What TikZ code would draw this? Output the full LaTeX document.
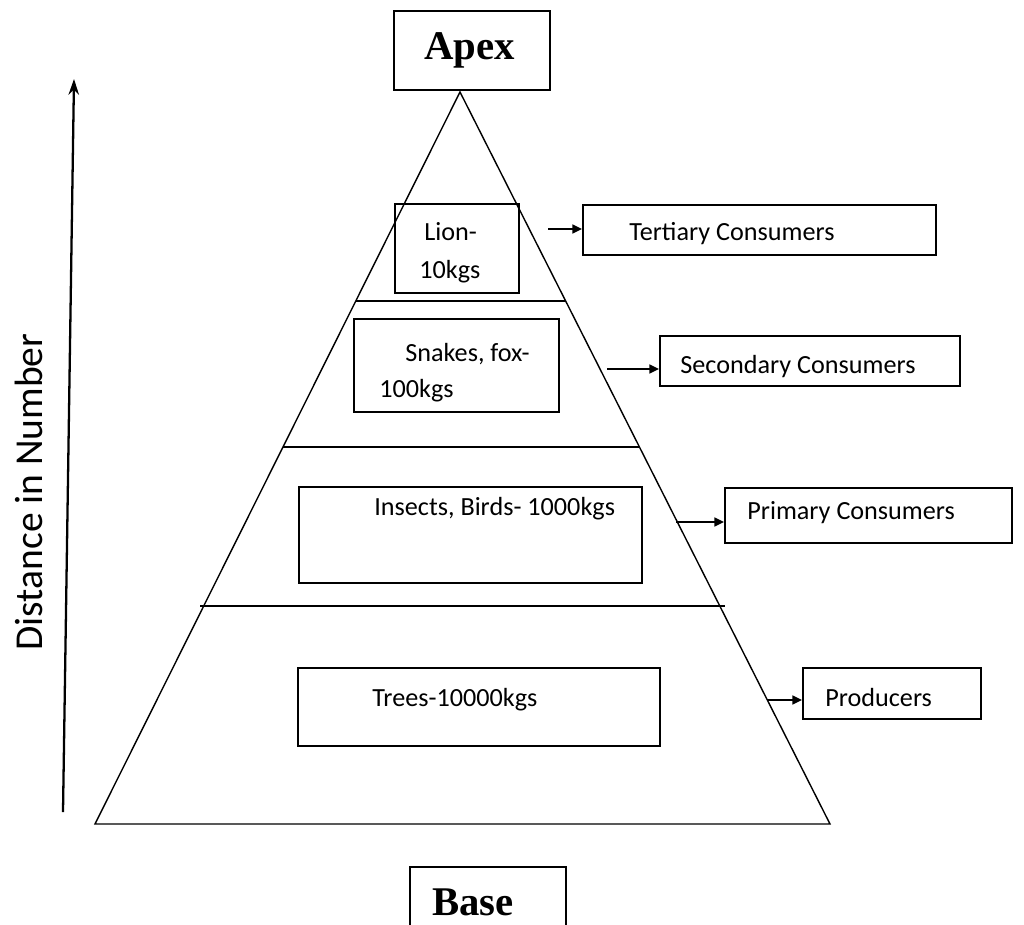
\documentclass[tikz,border=0pt]{standalone}
\usepackage{fontspec}
\setmainfont{Carlito}
\newfontfamily\serifbold{Liberation Serif}
\usetikzlibrary{arrows.meta,fit}
\begin{document}
\begin{tikzpicture}[x=0.02cm,y=-0.02cm,
  box/.style={draw, line width=1pt, inner sep=0pt},
  lbl/.style={inner sep=0pt, anchor=base west, font=\fontsize{14.9}{18}\selectfont},
  big/.style={inner sep=0pt, anchor=base west, font=\fontsize{23.2}{28}\selectfont\serifbold\bfseries},
  pointer/.style={line width=1.2pt, -{Triangle[length=5.5pt,width=5pt]}},
  edge/.style={line width=0.8pt}]
\useasboundingbox (0,0) rectangle (1024,924);
% pyramid
\coordinate (top) at (460,92);
\coordinate (bl) at (95,824);
\coordinate (br) at (830,824);
\draw[edge] (top) -- (bl) -- (br) -- cycle;
\draw[edge] (356,301) -- (566,301);
\draw[edge] (283,447) -- (640,447);
\draw[edge] (200,606) -- (725,606);
% apex / base
\node[box, fit={(394,11) (550,90)}] (apexbox) {};
\node[big] (apextxt) at (424,59) {Apex};
\node[box, fit={(410,867) (566,930)}] (basebox) {};
\node[big] (basetxt) at (432,915) {Base};
% tertiary
\node[box, fit={(395,204) (519,293)}] (lion) {};
\node[lbl] (lion1) at (424,240) {Lion-};
\node[lbl] (lion2) at (419,278) {10kgs};
\node[box, fit={(583,205) (936,255)}] (tert) {};
\node[lbl] (terttxt) at (629,240) {Tertiary Consumers};
\coordinate (a1) at (548,229);
\draw[pointer] (a1) -- (a1 -| tert.west);
% secondary
\node[box, fit={(354,319) (559,412)}] (snake) {};
\node[lbl] (snake1) at (405,361) {Snakes, fox-};
\node[lbl] (snake2) at (379,397) {100kgs};
\node[box, fit={(660,336) (960,386)}] (sec) {};
\node[lbl] (sectxt) at (680,373) {Secondary Consumers};
\coordinate (a2) at (607,369);
\draw[pointer] (a2) -- (a2 -| sec.west);
% primary
\node[box, fit={(299,487) (642,583)}] (insect) {};
\node[lbl] (insecttxt) at (374,515) {Insects, Birds- 1000kgs};
\node[box, fit={(725,488) (1012,543)}] (prim) {};
\node[lbl] (primtxt) at (747,519) {Primary Consumers};
\coordinate (a3) at (676,522);
\draw[pointer] (a3) -- (a3 -| prim.west);
% producers
\node[box, fit={(298,668) (660,746)}] (trees) {};
\node[lbl] (treestxt) at (372,706) {Trees-10000kgs};
\node[box, fit={(803,668) (981,719)}] (prod) {};
\node[lbl] (prodtxt) at (825,706) {Producers};
\coordinate (a4) at (767,700);
\draw[pointer] (a4) -- (a4 -| prod.west);
% axis
\coordinate (ax0) at (63,812);
\coordinate (ax1) at (74,79);
\draw[line width=1.3pt, -{Stealth[length=9pt,width=6pt]}] (ax0) -- (ax1);
\node[inner sep=0pt, rotate=90, font=\fontsize{22.5}{27}\selectfont] (axlbl) at (29,492) {Distance in Number};
\end{tikzpicture}
\end{document}
